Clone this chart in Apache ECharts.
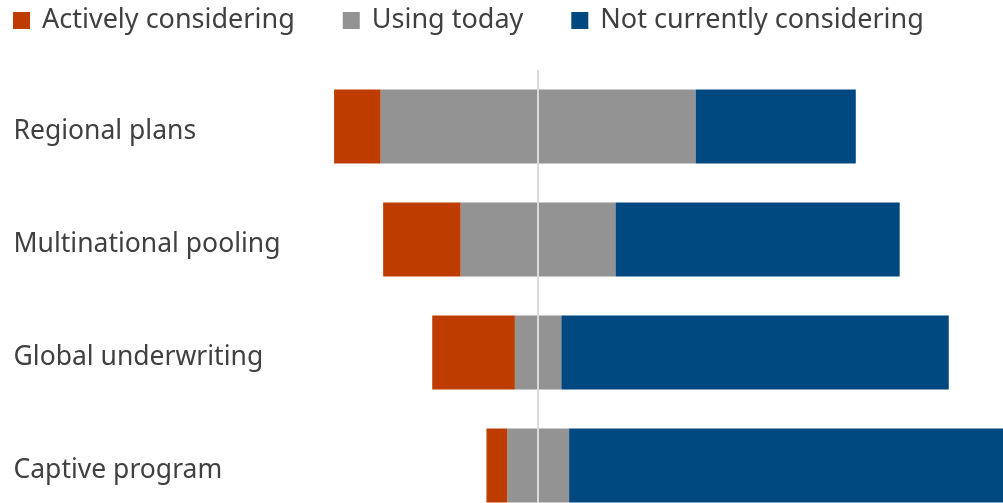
<!DOCTYPE html>
<html>
<head>
<meta charset="utf-8">
<script src="https://cdn.jsdelivr.net/npm/echarts@6/dist/echarts.min.js"></script>
<style>
  html, body { margin: 0; padding: 0; background: #fff; overflow: hidden; }
  /* taller than the window: the last row is cut off at the bottom, as in the original */
  #chart { width: 1003px; height: 560px; }
</style>
</head>
<body>
<div id="chart"></div>
<script>
// share of respondents, %
const categories = ['Regional plans', 'Multinational pooling', 'Global underwriting', 'Captive program']
const activelyConsidering = [9, 15, 16, 4]
const usingToday = [61, 30, 9, 12]
const notConsidering = [31, 55, 75, 84]

const FONT = '"Noto Sans", "Open Sans", sans-serif'
const TEXT_COLOR = '#404040'

// diverging layout: "Using today" is split evenly around zero
const grayLeft = usingToday.map(v => -v / 2)
const grayRight = usingToday.map(v => v / 2)
const orangeLeft = activelyConsidering.map(v => -v)

const chart = echarts.init(document.getElementById('chart'))

chart.setOption({
  animation: false,
  color: ['#BF3C00', '#939393', '#004880'],
  legend: {
    data: ['Actively considering', 'Using today', 'Not currently considering'],
    left: 8,
    top: 2,
    itemWidth: 17,
    itemHeight: 17,
    itemGap: 48,
    icon: 'rect',
    textStyle: {
      fontFamily: FONT,
      fontSize: 27,
      color: TEXT_COLOR,
      padding: [0, 0, 0, 7]
    }
  },
  grid: {
    left: 331.5,
    top: 70,
    width: 678,
    height: 452
  },
  xAxis: {
    type: 'value',
    min: -40,
    max: 90,
    show: false
  },
  yAxis: {
    type: 'category',
    data: categories,
    inverse: true,
    axisLine: { show: false },
    axisTick: { show: false },
    axisLabel: {
      align: 'left',
      margin: 318,
      formatter: v => '{name|' + v + '}',
      rich: {
        name: {
          fontFamily: FONT,
          fontSize: 26.5,
          color: TEXT_COLOR,
          padding: [10, 0, 0, 0]
        }
      }
    }
  },
  series: [
    {
      name: 'Using today',
      type: 'bar',
      stack: 'total',
      barWidth: 74,
      itemStyle: { color: '#939393' },
      data: grayLeft
    },
    {
      name: 'Actively considering',
      type: 'bar',
      stack: 'total',
      barWidth: 74,
      itemStyle: { color: '#BF3C00' },
      data: orangeLeft
    },
    {
      name: 'Using today',
      type: 'bar',
      stack: 'total',
      barWidth: 74,
      itemStyle: { color: '#939393' },
      data: grayRight
    },
    {
      name: 'Not currently considering',
      type: 'bar',
      stack: 'total',
      barWidth: 74,
      itemStyle: { color: '#004880' },
      data: notConsidering,
      markLine: {
        silent: true,
        symbol: 'none',
        label: { show: false },
        lineStyle: { color: '#d9d9d9', width: 2, type: 'solid' },
        data: [{ xAxis: 0 }]
      }
    }
  ]
})
</script>
</body>
</html>
